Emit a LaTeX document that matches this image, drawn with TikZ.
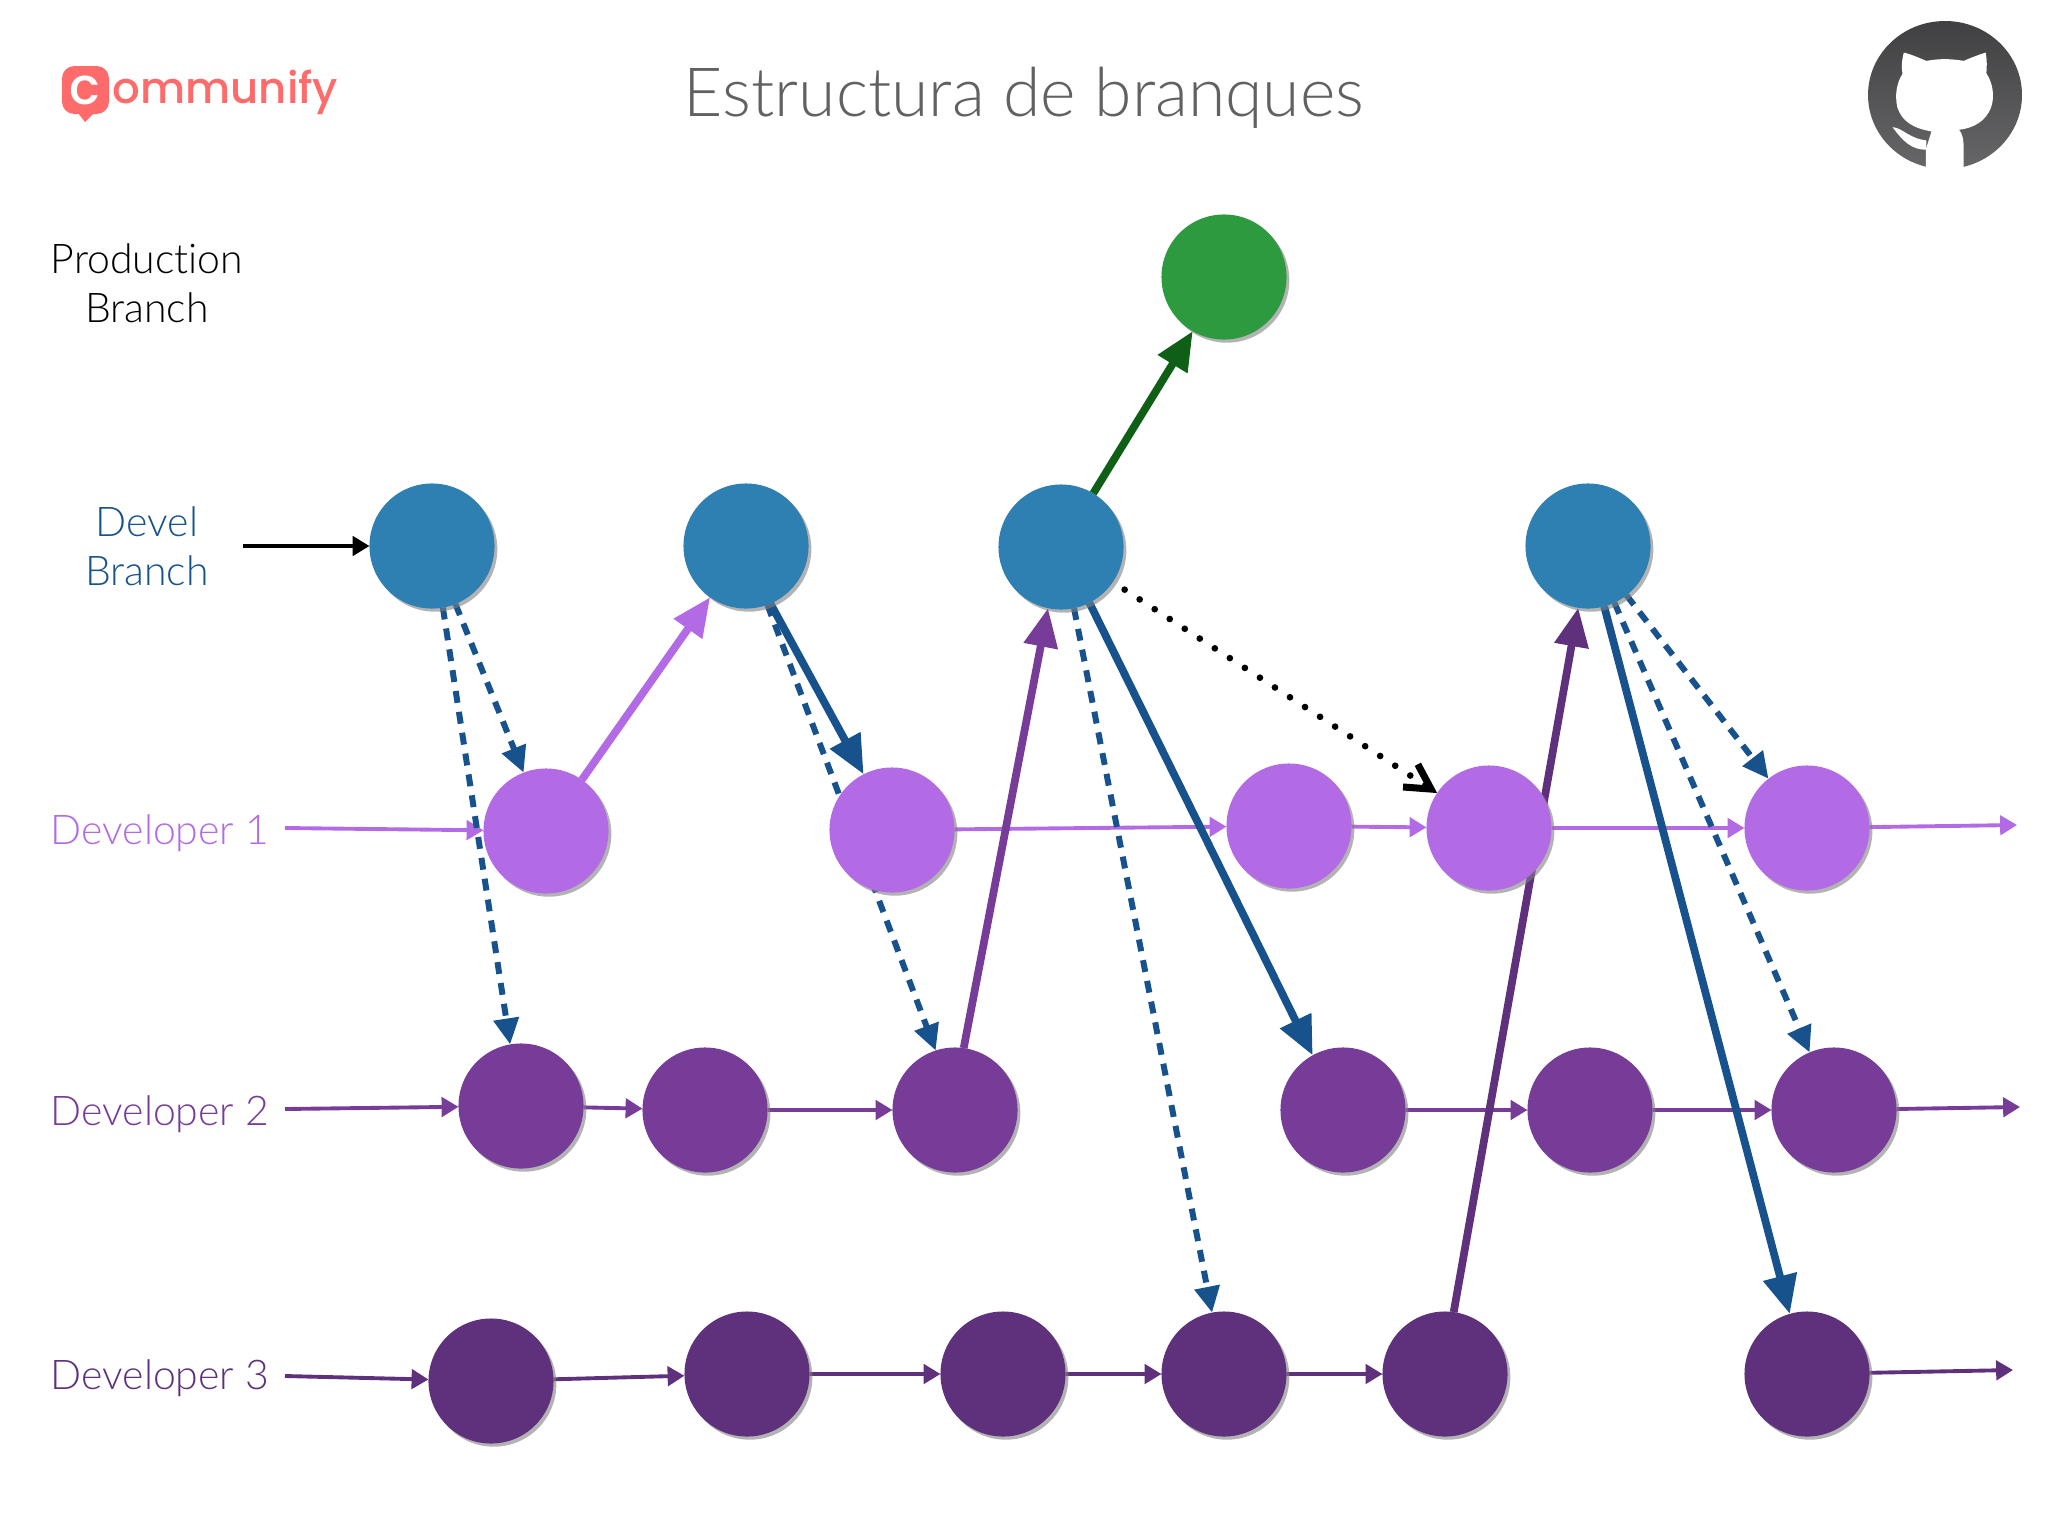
\documentclass[tikz,border=0pt]{standalone}
\usepackage{fontspec}
\setmainfont{Liberation Sans}
\newfontfamily\titlefont{Lato Light}
\newfontfamily\labelfont[Ligatures=NoCommon]{Lato Light}
\newfontfamily\logofont{Poppins Medium}
\usetikzlibrary{arrows.meta,shadows,backgrounds}
\definecolor{bluenode}{HTML}{2E7FB2}
\definecolor{blueline}{HTML}{17528C}
\definecolor{lilac}{HTML}{B36BE5}
\definecolor{plum}{HTML}{763C98}
\definecolor{darkplum}{HTML}{5F317D}
\definecolor{greennode}{HTML}{2E9A40}
\definecolor{greenline}{HTML}{0F5F17}
\definecolor{logored}{HTML}{FF6B6B}
\definecolor{octogrey}{HTML}{4C4B4D}
\tikzset{
  commit/.style={circle,minimum size=1.25cm,inner sep=0pt,outer sep=0pt,
    drop shadow={shadow xshift=0.8pt,shadow yshift=-0.9pt,opacity=.6}},
  develnode/.style={commit,fill=bluenode},
  devonenode/.style={commit,fill=lilac},
  devtwonode/.style={commit,fill=plum},
  devthreenode/.style={commit,fill=darkplum},
  prodnode/.style={commit,fill=greennode},
  sidelabel/.style={font=\labelfont\fontsize{11.65}{13.8}\selectfont,align=center,inner sep=0pt},
  flow/.style={line width=1.1pt,-{Triangle[length=4.8pt,width=5.5pt]}},
  branch/.style={line width=2.2pt,-{Triangle[length=11pt,width=9.4pt]}},
  pull/.style={line width=1.7pt,dash pattern=on 3.4pt off 2.6pt,-{Triangle[length=7.4pt,width=7pt]}},
  hint/.style={line width=1.9pt,line cap=round,dash pattern=on 0pt off 5.1pt,shorten <=4pt,
    -{Straight Barb[length=7pt,width=7.7pt,line width=2pt]}},
}
\begin{document}
\begin{tikzpicture}[x=0.01cm,y=-0.01cm]
\useasboundingbox (0,0) rectangle (2048,1536);
\node[font=\titlefont\fontsize{19.3}{22}\selectfont,text=black!62,inner sep=0pt] (title) at (1024,98) {Estructura de branques};
% logo
\fill[logored,rounded corners=3.5pt] (62,66) rectangle (109,114);
\fill[logored] (78,113) -- (94,113) -- (85,122) -- cycle;
\node[font=\logofont\fontsize{14.5}{16}\selectfont,text=white,inner sep=0pt] (logoc) at (85,90) {c};
\node[font=\logofont\fontsize{12.35}{14}\selectfont,text=logored,anchor=base west,inner sep=0pt] (logotext) at (112,103) {ommunify};
% github
\shade[top color=octogrey!85!black,bottom color=octogrey!85!white] (1945,95) ellipse (77 and 74);
\begin{scope}[shift={(1780,0)},x=0.003333cm,y=-0.003333cm]
\fill[white] (372,158) .. controls (400,165) and (420,175) .. (440,183) .. controls (475,176) and (515,176) .. (552,183)
  .. controls (570,175) and (595,165) .. (618,158) .. controls (622,180) and (622,200) .. (620,220)
  .. controls (640,250) and (645,290) .. (635,320) .. controls (620,365) and (580,385) .. (538,390)
  .. controls (548,400) and (552,420) .. (552,450) -- (552,525) -- (438,525) -- (438,450) -- (455,395)
  .. controls (400,385) and (365,365) .. (352,320) .. controls (345,285) and (350,250) .. (368,222)
  .. controls (364,200) and (366,180) .. (372,158) -- cycle;
\fill[white] (338,382) .. controls (370,385) and (385,415) .. (440,422) -- (440,450)
  .. controls (395,450) and (370,425) .. (338,382) -- cycle;
\end{scope}
% labels
\node[sidelabel] (prodlabel) at (147,283) {Production\\Branch};
\node[sidelabel,text=blueline] (devellabel) at (147,546) {Devel\\Branch};
\node[sidelabel,text=lilac,anchor=west] (devonelabel) at (50,833) {Developer 1};
\node[sidelabel,text=plum,anchor=west] (devtwolabel) at (50,1114) {Developer 2};
\node[sidelabel,text=darkplum,anchor=west] (devthreelabel) at (50,1378) {Developer 3};
% commits
\node[prodnode] (prod) at (1224,277) {};
\node[develnode] (develA) at (432,546) {};
\node[develnode] (develB) at (746,546) {};
\node[develnode] (develC) at (1061,547) {};
\node[develnode] (develD) at (1588,546) {};
\node[devonenode] (oneA) at (546,831) {};
\node[devonenode] (oneB) at (892,830) {};
\node[devonenode] (oneC) at (1289,826) {};
\node[devonenode] (oneD) at (1489,828) {};
\node[devonenode] (oneE) at (1807,828) {};
\node[devtwonode] (twoA) at (521,1106) {};
\node[devtwonode] (twoB) at (705,1110) {};
\node[devtwonode] (twoC) at (955,1110) {};
\node[devtwonode] (twoD) at (1343,1110) {};
\node[devtwonode] (twoE) at (1590,1110) {};
\node[devtwonode] (twoF) at (1834,1110) {};
\node[devthreenode] (threeA) at (491,1381) {};
\node[devthreenode] (threeB) at (747,1374) {};
\node[devthreenode] (threeC) at (1003,1374) {};
\node[devthreenode] (threeD) at (1224,1374) {};
\node[devthreenode] (threeE) at (1445,1374) {};
\node[devthreenode] (threeF) at (1807,1374) {};
% free ends
\coordinate (develstart) at (243,546);
\coordinate (onestart) at (285,828);
\coordinate (oneend) at (2017,825);
\coordinate (twostart) at (285,1109);
\coordinate (twoend) at (2020,1107);
\coordinate (threestart) at (285,1376);
\coordinate (threeend) at (2013,1370);
\begin{pgfonlayer}{background}
\draw[flow,black] (develstart) -- (develA);
\draw[flow,lilac] (onestart) -- (oneA);
\draw[flow,lilac] (oneB) -- (oneC);
\draw[flow,lilac] (oneC) -- (oneD);
\draw[flow,lilac] (oneD) -- (oneE);
\draw[flow,lilac] (oneE) -- (oneend);
\draw[flow,plum] (twostart) -- (twoA);
\draw[flow,plum] (twoA) -- (twoB);
\draw[flow,plum] (twoB) -- (twoC);
\draw[flow,plum] (twoD) -- (twoE);
\draw[flow,plum] (twoE) -- (twoF);
\draw[flow,plum] (twoF) -- (twoend);
\draw[flow,darkplum] (threestart) -- (threeA);
\draw[flow,darkplum] (threeA) -- (threeB);
\draw[flow,darkplum] (threeB) -- (threeC);
\draw[flow,darkplum] (threeC) -- (threeD);
\draw[flow,darkplum] (threeD) -- (threeE);
\draw[flow,darkplum] (threeF) -- (threeend);
\draw[pull,blueline] (develA.-68) -- (oneA.111);
\draw[pull,blueline] (develA.-80) -- (twoA.100);
\draw[branch,lilac] (oneA.55) -- (develB.-125);
\draw[branch,blueline] (develB.-67) -- (oneB.117);
\draw[pull,blueline] (develB.-70) -- (twoC.108);
\draw[branch,plum] (twoC.82) -- (develC.-102);
\draw[branch,greenline] (develC.59) -- (prod.-120);
\draw[branch,blueline] (develC.-63) -- (twoD.119);
\draw[pull,blueline] (develC.-78) -- (threeD.101);
\draw[hint,black] (develC.-34) -- (oneD.146);
\draw[branch,darkplum] (threeE.82) -- (develD.-99);
\draw[branch,blueline] (develD.-75) -- (threeF.106);
\draw[pull,blueline] (develD.-65) -- (twoF.113);
\draw[pull,blueline] (develD.-52) -- (oneE.128);
\end{pgfonlayer}
\end{tikzpicture}
\end{document}
